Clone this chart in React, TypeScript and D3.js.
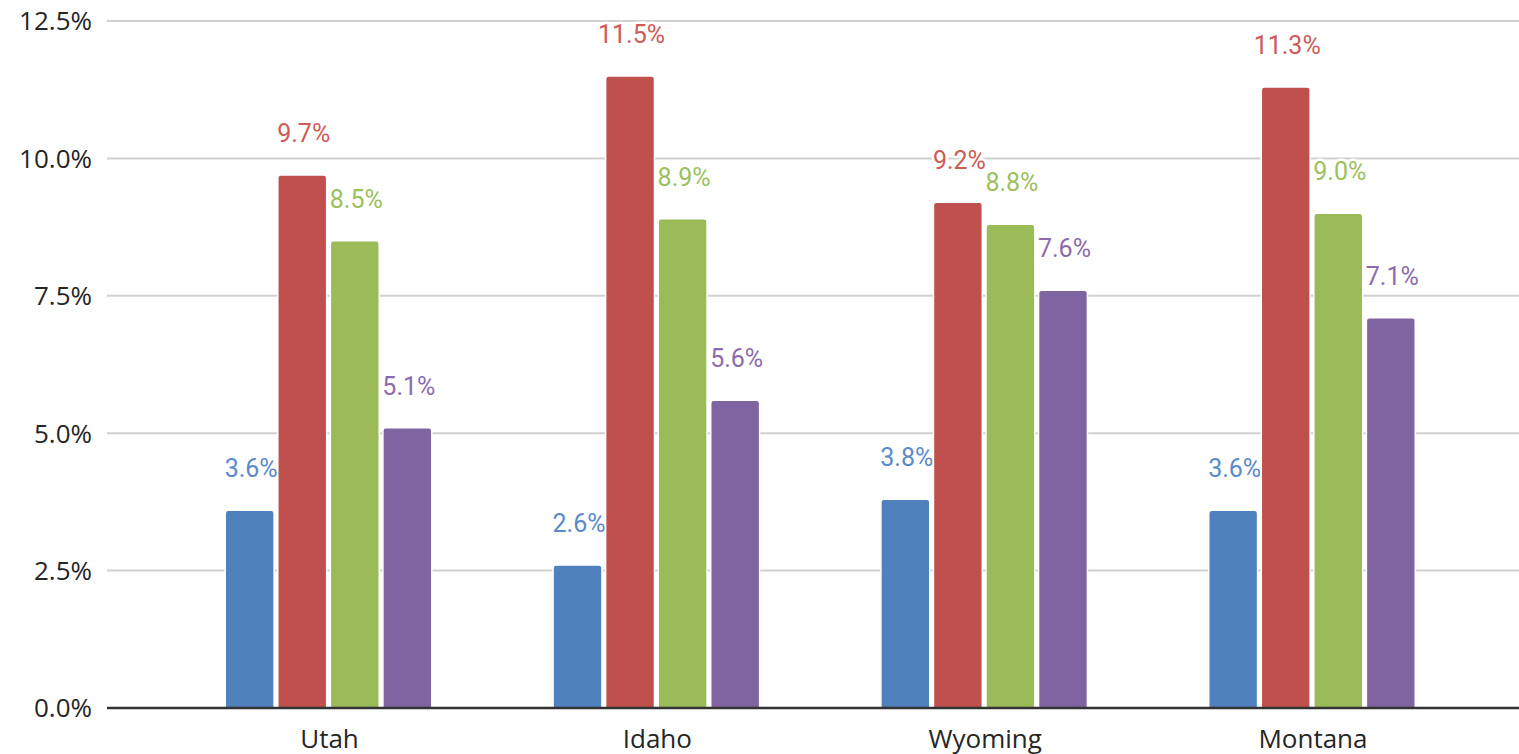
import React, { useEffect, useRef } from "react";
import * as d3 from "d3";

const categories = ["Utah", "Idaho", "Wyoming", "Montana"];
const seriesNames = ["Series 1", "Series 2", "Series 3", "Series 4"];
const series1 = [3.6, 2.6, 3.8, 3.6];
const series2 = [9.7, 11.5, 9.2, 11.3];
const series3 = [8.5, 8.9, 8.8, 9.0];
const series4 = [5.1, 5.6, 7.6, 7.1];
const yTicks = [0, 2.5, 5, 7.5, 10, 12.5];

const barColors = ["#4F81BD", "#C0504D", "#9BBB59", "#8064A2"];
const labelColors = ["#5A8ACA", "#CF5A57", "#9CC05C", "#8A6CAE"];

const App: React.FC = () => {
  const svgRef = useRef<SVGSVGElement | null>(null);

  useEffect(() => {
    if (!svgRef.current) return;
    const width = 1519;
    const height = 754;
    const values = [series1, series2, series3, series4];

    d3.select(svgRef.current).selectAll("*").remove();
    const svg = d3
      .select(svgRef.current)
      .attr("width", width)
      .attr("height", height);

    const y = d3.scaleLinear().domain([0, 12.5]).range([708, 21]);
    const x0 = d3
      .scaleBand<string>()
      .domain(categories)
      .range([164.6, 1475.9])
      .paddingInner(0.37)
      .paddingOuter(0.185);
    const x1 = d3
      .scaleBand<string>()
      .domain(seriesNames)
      .range([0, x0.bandwidth()])
      .paddingInner(0.07);

    const plotLeft = 107;
    const plotRight = width;

    // gridlines
    svg
      .selectAll(".grid")
      .data(yTicks.filter((t) => t > 0))
      .enter()
      .append("line")
      .attr("x1", plotLeft)
      .attr("x2", plotRight)
      .attr("y1", (d) => y(d))
      .attr("y2", (d) => y(d))
      .attr("stroke", "#D0D0D0")
      .attr("stroke-width", 2);

    // y tick labels
    svg
      .selectAll(".ytick")
      .data(yTicks)
      .enter()
      .append("text")
      .attr("x", 92)
      .attr("y", (d) => y(d))
      .attr("dy", "0.36em")
      .attr("text-anchor", "end")
      .attr("font-family", "'Open Sans', sans-serif")
      .attr("font-size", 26)
      .attr("fill", "#262626")
      .text((d) => d3.format(".1f")(d) + "%");

    // category labels
    svg
      .selectAll(".xtick")
      .data(categories)
      .enter()
      .append("text")
      .attr("x", (d) => (x0(d) ?? 0) + x0.bandwidth() / 2 + 1)
      .attr("y", 748)
      .attr("text-anchor", "middle")
      .attr("font-family", "'Open Sans', sans-serif")
      .attr("font-size", 26)
      .attr("fill", "#262626")
      .text((d) => d);

    type Cell = { cat: string; s: number; v: number };
    const cells: Cell[] = [];
    categories.forEach((cat, ci) => {
      values.forEach((vals, s) => cells.push({ cat, s, v: vals[ci] }));
    });
    const bx = (d: Cell) => (x0(d.cat) ?? 0) + (x1(seriesNames[d.s]) ?? 0);

    // data labels (beneath bars)
    svg
      .selectAll(".dlabel")
      .data(cells)
      .enter()
      .append("text")
      .attr("x", (d) => bx(d) + x1.bandwidth() / 2 + 1.5)
      .attr("y", (d) => y(d.v) - 33)
      .attr("text-anchor", "middle")
      .attr("font-family", "Roboto, sans-serif")
      .attr("font-size", 25)
      .attr("fill", (d) => labelColors[d.s])
      .attr("stroke", "#fff")
      .attr("stroke-width", 5)
      .attr("stroke-linejoin", "round")
      .attr("paint-order", "stroke")
      .text((d) => d3.format(".1f")(d.v) + "%");

    // bars with rounded tops
    const r = 3;
    svg
      .selectAll(".bar")
      .data(cells)
      .enter()
      .append("path")
      .attr("d", (d) => {
        const xl = bx(d);
        const w = x1.bandwidth();
        const top = y(d.v);
        const base = y(0);
        const p = d3.path();
        p.moveTo(xl, base);
        p.lineTo(xl, top + r);
        p.quadraticCurveTo(xl, top, xl + r, top);
        p.lineTo(xl + w - r, top);
        p.quadraticCurveTo(xl + w, top, xl + w, top + r);
        p.lineTo(xl + w, base);
        p.closePath();
        return p.toString();
      })
      .attr("fill", (d) => barColors[d.s])
      .attr("stroke", "#fff")
      .attr("stroke-width", 1.5);

    // baseline
    svg
      .append("line")
      .attr("x1", plotLeft)
      .attr("x2", plotRight)
      .attr("y1", y(0))
      .attr("y2", y(0))
      .attr("stroke", "#333")
      .attr("stroke-width", 2.5);
  }, []);

  return (
    <div style={{ position: "absolute", left: 0, top: 0, background: "#fff" }}>
      <svg ref={svgRef} style={{ display: "block" }} />
    </div>
  );
};

export default App;
